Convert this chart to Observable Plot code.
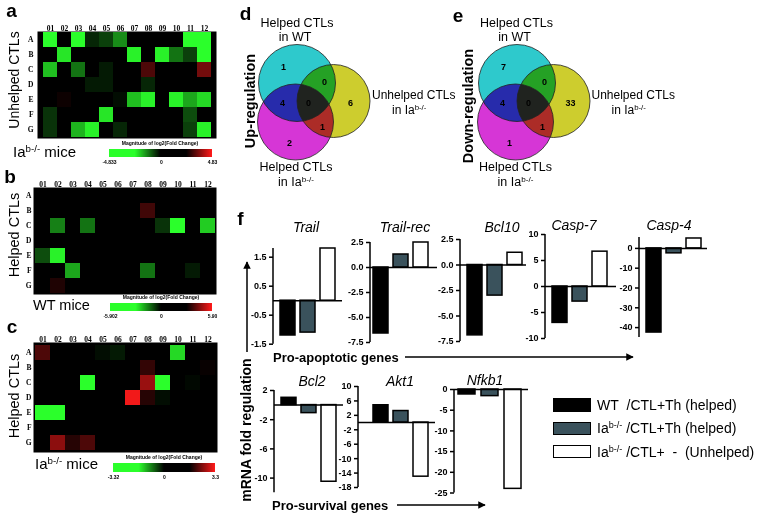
<!DOCTYPE html>
<html><head><meta charset="utf-8">
<script src="https://cdn.jsdelivr.net/npm/d3@7"></script>
<script src="https://cdn.jsdelivr.net/npm/@observablehq/plot@0.6"></script>
<style>
body{margin:0;background:#fff;}
#fig{position:relative;width:771px;height:514px;overflow:hidden;font-family:"Liberation Sans",Arial,sans-serif;background:#fff;}
.t{position:absolute;white-space:nowrap;line-height:1;color:#000;}
.sup{font-size:0.65em;position:relative;top:-0.5em;}
.box{position:absolute;box-sizing:border-box;border:1.5px solid #000;}
</style></head><body><div id="fig"></div>
<script>
// ---------------- DATA ----------------
const heatCols = ["01","02","03","04","05","06","07","08","09","10","11","12"];
const heatRows = ["A","B","C","D","E","F","G"];
// normalized log2 fold change (-1 = strongest down / green, +1 = strongest up / red)
const heatA = [
  [-1, 0, -1, -0.15, -0.25, -0.55, 0, 0, 0, 0, -1, -1],
  [0, -0.9, 0, 0, 0, 0, -0.95, 0, -0.95, -0.45, -0.25, -1],
  [-0.75, 0, -0.45, 0, -0.1, 0, 0, 0.3, 0, 0, 0, 0.45],
  [0, 0, 0, -0.1, -0.1, 0, 0, -0.15, 0, 0, 0, 0],
  [0, 0.05, 0, 0, 0, -0.05, -0.75, -0.95, 0, -0.95, -0.65, -0.85],
  [-0.2, 0, 0, 0, -0.9, 0, 0, 0, 0, 0, -0.3, 0],
  [-0.2, 0, -0.7, -0.95, 0, -0.15, 0, 0, 0, 0, -0.25, -0.95]
];
const heatB = [
  [0,0,0,0,0,0,0,0,0,0,0,0],
  [0,0,0,0,0,0,0,0.25,0,0,0,0],
  [0,-0.5,0,-0.45,0,0,0,0,-0.2,-1,0,-0.8],
  [0,0,0,0,0,0,0,0,0,0,0,0],
  [-0.3,-0.95,0,0,0,0,0,0,0,0,0,0],
  [0,0,-0.65,0,0,0,0,-0.45,0,0,-0.1,0],
  [0,0.12,0,0,0,0,0,0,0,0,0,0]
];
const heatC = [
  [0.3,0,0,0,-0.05,-0.1,0,0,0,-0.85,0,0],
  [0,0,0,0,0,0,0,0.2,0,0,0,0.03],
  [0,0,0,-1,0,0,0,0.6,-1,0,-0.03,0],
  [0,0,0,0,0,0,0.95,0.15,-0.05,0,0,0],
  [-1,-1,0,0,0,0,0,0,0,0,0,0],
  [0,0,0,0,0,0,0,0,0,0,0,0],
  [0,0.55,0.15,0.3,0,0,0,0,0,0,0,0]
];
const rampA = [-4.833, -2.4, 0, 2.4, 4.833], rampLabelsA = ["-4.833", "0", "4.83"];
const rampB = [-5.902, -2.95, 0, 2.95, 5.902], rampLabelsB = ["-5.902", "0", "5.90"];
const rampC = [-3.32, -1.66, 0, 1.65, 3.3], rampLabelsC = ["-3.32", "0", "3.3"];

const vennSets = ["Helped CTLs in WT", "Unhelped CTLs in Iab-/-", "Helped CTLs in Iab-/-"];
const vennRegions = ["WT only", "WT & Unhelped", "Unhelped only", "WT & Helped Iab", "all", "Unhelped & Helped Iab", "Helped Iab only"];
const upCounts = [1, 0, 6, 4, 0, 1, 2];
const downCounts = [7, 0, 33, 4, 0, 1, 1];

const genes = ["Trail", "Trail-rec", "Bcl10", "Casp-7", "Casp-4", "Bcl2", "Akt1", "Nfkb1"];
const groups = ["WT /CTL+Th (helped)", "Iab-/- /CTL+Th (helped)", "Iab-/- /CTL+ - (Unhelped)"];
const wtHelped   = [-1.2, -6.6, -6.9, -7.0, -42.5, 1.0, 4.8, -1.2];
const iaHelped   = [-1.1, 1.3, -3.0, -2.9, -2.5, -1.1, 3.2, -1.6];
const iaUnhelped = [1.8, 2.5, 1.2, 6.7, 5.0, -10.5, -15.0, -24.0];
const yDomains = [[-1.5,1.8],[-7.5,2.5],[-7.5,2.5],[-10,10],[-45,5.5],[-12,2],[-18,10],[-25,0]];
const yTicks = [
  [1.5,0.5,-0.5,-1.5],
  [2.5,0,-2.5,-5,-7.5],
  [2.5,0,-2.5,-5,-7.5],
  [10,5,0,-5,-10],
  [0,-10,-20,-30,-40],
  [2,-2,-6,-10],
  [10,6,2,-2,-6,-10,-14,-18],
  [0,-5,-10,-15,-20,-25]
];
const tickDecimals = [1,1,1,0,0,0,0,0];

// ---------------- LAYOUT / STYLE ----------------
const heatColors = ["#2bff2b", "#000000", "#ff1a1a"];
const rampColors = ["#2bff2b", "#2bff2b", "#000000", "#000000", "#ff1a1a"];
const vennColors = ["#2ec9cc", "#cdcd2e", "#d636d6"];
const barColors = ["#000000", "#3a525c", "#ffffff"];
const vennCircleLayout = [{x:46.5,y:42.5,r:38.5},{x:83,y:60.5,r:36.5},{x:45,y:81.5,r:38}];
const vennRegionLayout = [[33,27],[74,42],[100,63],[32,63],[58,63],[72,87],[39,103]];
const barLayout = [
  {x0:273, x1:342, yTop:247.8, yBot:343.5, b0:280, b1:335, tx:306, ty:227},
  {x0:370, x1:437, yTop:242, yBot:342, b0:373, b1:428, tx:405, ty:227},
  {x0:460, x1:526, yTop:238.5, yBot:340.5, b0:466, b1:522, tx:502, ty:227},
  {x0:545, x1:616, yTop:234, yBot:338, b0:552, b1:607, tx:574, ty:225},
  {x0:639, x1:707, yTop:237, yBot:337, b0:645, b1:701, tx:669, ty:225},
  {x0:274, x1:343, yTop:390.4, yBot:492.6, b0:280, b1:336, tx:312, ty:381},
  {x0:358, x1:435, yTop:386, yBot:487, b0:372, b1:429, tx:400, ty:381},
  {x0:454, x1:528, yTop:388.5, yBot:492, b0:457, b1:522, tx:485, ty:380}
];

const fig = document.getElementById("fig");
function place(node, x, y) {
  node.style.position = "absolute"; node.style.left = x + "px"; node.style.top = y + "px";
  fig.append(node);
}
function label(html, x, y, o = {}) {
  const d = document.createElement("div");
  d.className = "t"; d.innerHTML = html;
  d.style.left = x + "px"; d.style.top = y + "px";
  d.style.fontSize = (o.size || 12) + "px";
  if (o.bold) d.style.fontWeight = "bold";
  if (o.italic) d.style.fontStyle = "italic";
  const ax = o.anchor === "middle" ? "-50%" : o.anchor === "end" ? "-100%" : "0";
  d.style.transform = o.rotate ? "translate(-50%,-50%) rotate(-90deg)" : `translate(${ax},-50%)`;
  fig.append(d);
}
const IA = 'Ia<span class="sup">b-/-</span>';

// ---------------- HEATMAPS ----------------
function heatmap(values, L, rowPad) {
  const data = [];
  heatRows.forEach((r, i) => heatCols.forEach((c, j) => data.push({row: r, col: c, v: values[i][j]})));
  const mL = 14, mT = 10;
  const W = L.x1 - L.x0 + mL + 1, H = L.y1 - L.y0 + mT + 1;
  const node = Plot.plot({
    width: W, height: H, marginLeft: mL, marginTop: mT, marginRight: 1, marginBottom: 1,
    style: {fontFamily: "Liberation Serif", fontSize: "7.5px", fontWeight: "bold", background: "transparent", overflow: "visible"},
    x: {domain: heatCols, padding: 0, label: null},
    y: {domain: heatRows, padding: 0, label: null},
    color: {type: "linear", domain: [-1, 0, 1], range: heatColors, interpolate: "rgb"},
    marks: [
      Plot.frame({fill: "#000", stroke: null}),
      Plot.cell(data, {x: "col", y: "row", fill: "v", inset: 0}),
      Plot.axisX({anchor: "top", tickSize: 0, tickPadding: 1, label: null}),
      Plot.axisY({anchor: "left", tickSize: 0, tickPadding: rowPad, label: null})
    ]
  });
  place(node, L.x0 - mL, L.y0 - mT);
}
function ramp(dom, labels, L) {
  const mL = 12, mR = 12, barH = L.y1 - L.y0;
  const W = (L.x1 - L.x0) + mL + mR;
  const node = Plot.legend({
    legend: "ramp",
    color: {type: "linear", domain: dom, range: rampColors, interpolate: "rgb"},
    width: W, height: 2 + barH + 9, marginTop: 2, marginBottom: 9, marginLeft: mL, marginRight: mR,
    tickSize: 0, ticks: [dom[0], dom[2], dom[4]], tickFormat: (d, i) => labels[i], label: null,
    style: {fontFamily: "Liberation Sans", fontSize: "5px", fontWeight: "bold", background: "transparent", overflow: "visible"}
  });
  d3.select(node).selectAll(".tick line").remove();
  d3.select(node).selectAll("text").attr("font-size", 5).style("font-size", "5px");
  place(node, L.x0 - mL, L.y0 - 2);
}
heatmap(heatA, {x0: 37, x1: 216, y0: 31, y1: 138}, 4);
heatmap(heatB, {x0: 33, x1: 216, y0: 187, y1: 294}, 2);
heatmap(heatC, {x0: 33, x1: 217, y0: 342, y1: 452}, 2);
ramp(rampA, rampLabelsA, {x0: 109, x1: 212, y0: 149, y1: 157});
ramp(rampB, rampLabelsB, {x0: 110, x1: 212, y0: 303, y1: 311});
ramp(rampC, rampLabelsC, {x0: 113, x1: 215, y0: 463, y1: 472});

// ---------------- VENN ----------------
function venn(counts, left, top) {
  const circles = vennSets.map((s, i) => ({set: s, ...vennCircleLayout[i], c: vennColors[i]}));
  const regions = vennRegions.map((r, i) => ({region: r, x: vennRegionLayout[i][0], y: vennRegionLayout[i][1], n: counts[i]}));
  const node = Plot.plot({
    width: 135, height: 130, margin: 0,
    style: {fontFamily: "Liberation Sans", fontSize: "9px", fontWeight: "bold", background: "transparent", overflow: "visible"},
    x: {domain: [0, 135], range: [0, 135], axis: null},
    y: {domain: [0, 130], range: [0, 130], axis: null},
    r: {type: "identity"},
    color: {type: "identity"},
    marks: [
      Plot.dot(circles, {x: "x", y: "y", r: "r", fill: "c", className: "vfill"}),
      Plot.dot(circles, {x: "x", y: "y", r: "r", fill: "none", stroke: "#222", strokeWidth: 1, strokeOpacity: 0.8}),
      Plot.text(regions, {x: "x", y: "y", text: d => String(d.n), fill: "#000"})
    ]
  });
  d3.select(node).selectAll(".vfill circle").style("mix-blend-mode", "multiply");
  place(node, left, top);
}
venn(upCounts, 250, 40);
venn(downCounts, 469.5, 40);

// ---------------- BAR CHARTS ----------------
const series = [wtHelped, iaHelped, iaUnhelped];
genes.forEach((g, i) => {
  const L = barLayout[i];
  const mL = 28, mR = 2, mT = 4, mB = 4;
  const left = L.x0 - mL, top = L.yTop - mT;
  const width = L.x1 - left + mR, height = L.yBot - top + mB;
  const data = groups.map((grp, j) => ({group: grp, value: series[j][i]}));
  const axisLine = (index, scales, values, dims) => d3.create("svg:line")
    .attr("x1", dims.marginLeft).attr("x2", dims.marginLeft)
    .attr("y1", dims.marginTop).attr("y2", dims.height - dims.marginBottom)
    .attr("stroke", "#000").attr("stroke-width", 1.5).node();
  const node = Plot.plot({
    width, height, marginLeft: mL, marginRight: mR, marginTop: mT, marginBottom: mB,
    style: {fontFamily: "Liberation Sans", fontSize: "9px", fontWeight: "bold", background: "transparent", overflow: "visible"},
    x: {type: "band", domain: groups, range: [L.b0 - left, L.b1 - left], paddingInner: 0.27, paddingOuter: 0, axis: null},
    y: {domain: yDomains[i]},
    color: {domain: groups, range: barColors},
    marks: [
      Plot.barY(data, {x: "group", y: "value", fill: "group", stroke: "#000", strokeWidth: 1.5}),
      Plot.ruleY([0], {stroke: "#000", strokeWidth: 1.5}),
      axisLine,
      Plot.axisY({ticks: yTicks[i], tickSize: 4, tickPadding: 3, strokeWidth: 1.5, label: null,
                  tickFormat: d => d.toFixed(tickDecimals[i])})
    ]
  });
  place(node, left, top);
  label(g, L.tx, L.ty, {size: 14, italic: true, anchor: "middle"});
});

// ---------------- ARROWS ----------------
const ov = d3.create("svg").attr("width", 771).attr("height", 514)
  .style("position", "absolute").style("left", "0px").style("top", "0px");
ov.append("defs").append("marker").attr("id", "ah").attr("viewBox", "0 0 10 10")
  .attr("refX", 9).attr("refY", 5).attr("markerWidth", 5).attr("markerHeight", 5).attr("orient", "auto")
  .append("path").attr("d", "M0,0L10,5L0,10z").attr("fill", "#000");
[[405,357,633,357],[397,505,485,505],[247,352,247,262]].forEach(([a,b,c,d]) =>
  ov.append("line").attr("x1",a).attr("y1",b).attr("x2",c).attr("y2",d)
    .attr("stroke","#000").attr("stroke-width",1.5).attr("marker-end","url(#ah)"));
fig.append(ov.node());

// ---------------- TEXT ----------------
label("a", 11.5, 10, {size: 19, bold: true, anchor: "middle"});
label("b", 10, 175.5, {size: 19, bold: true, anchor: "middle"});
label("c", 12, 326, {size: 19, bold: true, anchor: "middle"});
label("d", 245.5, 13, {size: 19, bold: true, anchor: "middle"});
label("e", 458, 14.5, {size: 19, bold: true, anchor: "middle"});
label("f", 240.5, 217.5, {size: 19, bold: true, anchor: "middle"});

label("Unhelped CTLs", 14, 80, {size: 14, rotate: true});
label("Helped CTLs", 14, 235, {size: 14.5, rotate: true});
label("Helped CTLs", 14, 396, {size: 14.5, rotate: true});
label(IA + " mice", 13, 151, {size: 15});
label("WT mice", 33, 305, {size: 14.5});
label(IA + " mice", 35, 463, {size: 15});
label("Magnitude of log2(Fold Change)", 160, 143, {size: 5, bold: true, anchor: "middle"});
label("Magnitude of log2(Fold Change)", 161, 297, {size: 5, bold: true, anchor: "middle"});
label("Magnitude of log2(Fold Change)", 164, 457, {size: 5, bold: true, anchor: "middle"});

// venn labels
[[0, "Up-regulation", 250, 101], [219.5, "Down-regulation", 468, 106]].forEach(([dx, t, rx, ry]) => {
  label("Helped CTLs", 297 + dx, 23, {size: 12.5, anchor: "middle"});
  label("in WT", 295 + dx, 37, {size: 12.5, anchor: "middle"});
  label("Unhelped CTLs", 372 + dx, 95, {size: 12, });
  label("in " + IA, 392 + dx, 110, {size: 12});
  label("Helped CTLs", 296 + dx, 167, {size: 12.5, anchor: "middle"});
  label("in " + IA, 296 + dx, 182, {size: 12.5, anchor: "middle"});
  label(t, rx, ry, {size: 14.5, bold: true, rotate: true});
});

label("Pro-apoptotic genes", 273, 357, {size: 13, bold: true});
label("Pro-survival genes", 272, 505, {size: 13, bold: true});
label("mRNA fold regulation", 246, 430, {size: 14, bold: true, rotate: true});

// legend
const legY = [[398,412,405],[422,435,428],[445,458,452]];
const legText = ["WT&nbsp;&nbsp;/CTL+Th (helped)", IA + " /CTL+Th (helped)", IA + " /CTL+&nbsp;&nbsp;-&nbsp;&nbsp;(Unhelped)"];
groups.forEach((g, i) => {
  const b = document.createElement("div");
  b.className = "box";
  b.style.left = "553px"; b.style.top = legY[i][0] + "px";
  b.style.width = "38px"; b.style.height = (legY[i][1] - legY[i][0]) + "px";
  b.style.background = barColors[i];
  fig.append(b);
  label(legText[i], 597, legY[i][2], {size: 14});
});
</script></body></html>
